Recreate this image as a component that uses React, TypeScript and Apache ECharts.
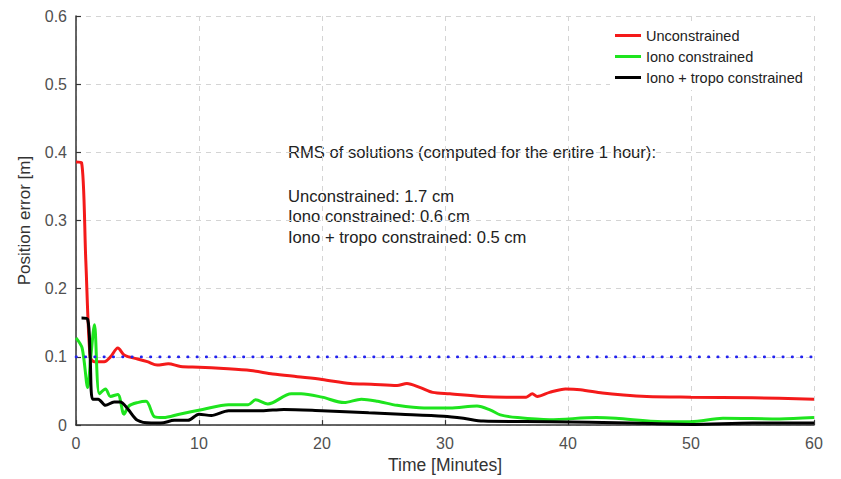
import React, { useEffect, useRef } from "react";
import * as echarts from "echarts";

const FONT = "'Liberation Sans', Arial, Helvetica, sans-serif";

const xTicks = [0, 10, 20, 30, 40, 50, 60];
const yTicks = [0, 0.1, 0.2, 0.3, 0.4, 0.5, 0.6];

const seriesNames = ["Unconstrained", "Iono constrained", "Iono + tropo constrained"];

const redT = [0, 0.45, 0.8, 1.15, 1.5, 2.3, 2.8, 3.4, 3.9, 4.3, 5.0, 5.8, 6.6, 7.5, 8.5, 10, 12, 14.2, 16, 18, 20, 22.3, 24, 26.1, 26.9, 28, 29, 30.4, 33, 35, 36.6, 37.1, 37.5, 38.5, 39.8, 41, 42.8, 44.5, 46.4, 50, 55, 60];
const redV = [0.386, 0.385, 0.24, 0.1, 0.093, 0.093, 0.1, 0.113, 0.103, 0.1, 0.097, 0.093, 0.088, 0.09, 0.086, 0.085, 0.083, 0.08, 0.075, 0.071, 0.067, 0.061, 0.06, 0.058, 0.061, 0.055, 0.048, 0.046, 0.042, 0.041, 0.041, 0.046, 0.042, 0.048, 0.053, 0.052, 0.047, 0.044, 0.042, 0.041, 0.04, 0.038];

const greenT = [0, 0.5, 0.95, 1.2, 1.5, 1.9, 2.4, 2.8, 3.4, 3.9, 4.3, 5.0, 5.7, 6.4, 7.1, 8.4, 10.3, 12.4, 14.0, 14.6, 15.6, 17.5, 18.3, 20, 21.8, 23.2, 24.5, 26.1, 28.3, 30.4, 32.6, 33.7, 34.5, 35.9, 38.5, 42.3, 43.9, 47.7, 50, 52.6, 57.2, 60];
const greenV = [0.128, 0.113, 0.055, 0.1, 0.147, 0.046, 0.053, 0.042, 0.045, 0.016, 0.028, 0.033, 0.035, 0.012, 0.011, 0.016, 0.023, 0.03, 0.03, 0.037, 0.031, 0.046, 0.046, 0.041, 0.033, 0.038, 0.035, 0.029, 0.025, 0.025, 0.028, 0.022, 0.015, 0.011, 0.008, 0.011, 0.01, 0.005, 0.005, 0.01, 0.009, 0.011];

const blackT = [0.45, 0.95, 1.15, 1.35, 1.8, 2.4, 3.1, 3.6, 4.2, 5.0, 6.1, 6.9, 8.0, 9.1, 10.0, 11.0, 12.4, 15.1, 16.9, 20, 23.8, 26.4, 29.9, 31.5, 33.1, 38.5, 45, 50, 55, 60];
const blackV = [0.157, 0.155, 0.1, 0.038, 0.038, 0.029, 0.034, 0.034, 0.024, 0.007, 0.003, 0.003, 0.007, 0.007, 0.016, 0.014, 0.021, 0.021, 0.023, 0.021, 0.018, 0.016, 0.013, 0.01, 0.006, 0.005, 0.003, 0.001, 0.003, 0.003];

const thresholdT = [0, 60];
const thresholdV = [0.1, 0.1];

const annotationLines = [
  "RMS of solutions (computed for the entire 1 hour):",
  "",
  "Unconstrained: 1.7 cm",
  "Iono constrained: 0.6 cm",
  "Iono + tropo constrained: 0.5 cm",
];

const pairs = (t: number[], v: number[]) => t.map((x, i) => [x, v[i]]);

export default function App() {
  const ref = useRef<HTMLDivElement>(null);
  useEffect(() => {
    if (!ref.current) return;
    const chart = echarts.init(ref.current, null, { renderer: "svg" });
    const lineY = [153, 175, 197, 217, 238];
    const option: any = {
      animation: false,
      backgroundColor: "#ffffff",
      textStyle: { fontFamily: FONT },
      grid: { left: 76, right: 27, top: 16, bottom: 51 },
      legend: {
        data: seriesNames,
        orient: "vertical",
        left: 610,
        top: 23,
        padding: [5, 8, 5, 5],
        backgroundColor: "#ffffff",
        itemWidth: 26,
        itemHeight: 3,
        itemGap: 6,
        icon: "rect",
        textStyle: { fontSize: 14.5, color: "#222", fontFamily: FONT, lineHeight: 14 },
      },
      xAxis: {
        type: "value",
        min: xTicks[0],
        max: xTicks[xTicks.length - 1],
        interval: 10,
        name: "Time [Minutes]",
        nameLocation: "middle",
        nameGap: 30,
        nameTextStyle: { fontSize: 17.5, color: "#333", fontFamily: FONT },
        axisLine: { lineStyle: { color: "#333", width: 1.5 } },
        axisTick: { inside: true, length: 5, lineStyle: { color: "#333", width: 1.2 } },
        axisLabel: { fontSize: 16, color: "#505050", margin: 10, fontFamily: FONT },
        splitLine: { show: true, lineStyle: { type: [5, 5], color: "#d4d4d4", width: 1 } },
      },
      yAxis: {
        type: "value",
        min: yTicks[0],
        max: yTicks[yTicks.length - 1],
        interval: 0.1,
        name: "Position error [m]",
        nameLocation: "middle",
        nameGap: 43,
        nameTextStyle: { fontSize: 17, color: "#333", fontFamily: FONT },
        axisLine: { show: true, lineStyle: { color: "#333", width: 1.5 } },
        axisTick: { show: true, inside: true, length: 5, lineStyle: { color: "#333", width: 1.2 } },
        axisLabel: {
          fontSize: 16,
          color: "#505050",
          margin: 9,
          fontFamily: FONT,
          formatter: (v: number) => (v === 0 ? "0" : v.toFixed(1)),
        },
        splitLine: { show: true, lineStyle: { type: [5, 5], color: "#d4d4d4", width: 1 } },
      },
      graphic: annotationLines
        .map((s, i) => ({
          type: "text",
          left: 288,
          top: lineY[i] - 9,
          silent: true,
          style: { text: s, fontSize: 16.6, fill: "#222", fontFamily: FONT },
        }))
        .filter((g) => g.style.text !== ""),
      series: [
        {
          name: seriesNames[0],
          type: "line",
          data: pairs(redT, redV),
          showSymbol: false,
          smooth: 0.3,
          lineStyle: { color: "#f41a1a", width: 3 },
          itemStyle: { color: "#f41a1a" },
          z: 2,
        },
        {
          name: seriesNames[1],
          type: "line",
          data: pairs(greenT, greenV),
          showSymbol: false,
          smooth: 0.3,
          lineStyle: { color: "#1ee41e", width: 3 },
          itemStyle: { color: "#1ee41e" },
          z: 3,
        },
        {
          name: seriesNames[2],
          type: "line",
          data: pairs(blackT, blackV),
          showSymbol: false,
          smooth: 0.3,
          lineStyle: { color: "#000000", width: 3 },
          itemStyle: { color: "#000000" },
          z: 4,
        },
        {
          name: "Threshold",
          type: "line",
          data: pairs(thresholdT, thresholdV),
          showSymbol: false,
          lineStyle: { color: "#2222ee", width: 2.6, type: [0.5, 8.8], cap: "round" },
          z: 5,
        },
      ],
    };
    chart.setOption(option);
    return () => chart.dispose();
  }, []);
  return (
    <div
      ref={ref}
      style={{ position: "fixed", left: 0, top: 0, width: 841, height: 479, background: "#fff" }}
    />
  );
}
